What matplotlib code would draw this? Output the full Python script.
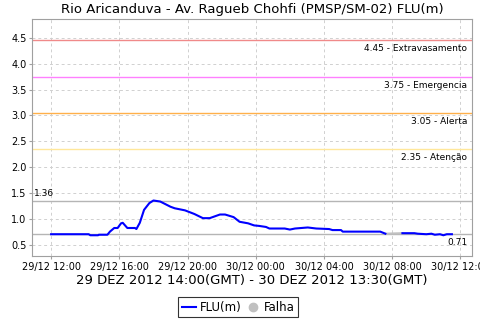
import pandas as pd
import matplotlib
matplotlib.use("Agg")
from matplotlib import pyplot as plt
import matplotlib.dates as mdates
from matplotlib.lines import Line2D

# hours after 29/12 12:00 and level in m
hrs = [0, 2.2, 2.3, 2.75, 2.8, 3.3, 3.45, 3.7, 3.9, 4.1, 4.2, 4.47, 4.92, 5.0,
       5.2, 5.45, 5.76, 6.0, 6.4, 6.7, 7.0, 7.25, 7.85, 8.4, 8.9, 9.3, 9.9,
       10.2, 10.7, 11.05, 11.55, 11.9, 12.2, 12.6, 12.8, 13.7, 14.0, 14.3,
       15.05, 15.55, 16.3, 16.5, 17.0, 17.1, 19.3, 19.6]
flu = [0.71, 0.71, 0.69, 0.69, 0.70, 0.70, 0.76, 0.83, 0.83, 0.92, 0.93, 0.83,
       0.83, 0.81, 0.93, 1.18, 1.31, 1.36, 1.34, 1.29, 1.24, 1.21, 1.17, 1.10,
       1.02, 1.02, 1.09, 1.09, 1.04, 0.95, 0.92, 0.88, 0.87, 0.85, 0.82, 0.82,
       0.80, 0.82, 0.84, 0.82, 0.81, 0.79, 0.79, 0.76, 0.76, 0.72]
hrs2 = [20.6, 21.3, 21.5, 22.0, 22.3, 22.5, 22.8, 23.0, 23.2, 23.5]
flu2 = [0.73, 0.73, 0.72, 0.71, 0.72, 0.70, 0.71, 0.69, 0.71, 0.71]

limits = [4.45, 3.75, 3.05, 2.35]
lim_names = ["Extravasamento", "Emergencia", "Alerta", "Atenção"]
lim_colors = ["#f08a8a", "#ff80ff", "#ffb04a", "#ffe79a"]
vmax, vmin = 1.36, 0.71

t0 = pd.Timestamp("2012-12-29 12:00")
t1 = [t0 + pd.Timedelta(hours=h) for h in hrs]
t2 = [t0 + pd.Timedelta(hours=h) for h in hrs2]

fig = plt.figure(figsize=(4.8, 3.2), dpi=100)
ax = fig.add_axes([0.0667, 0.2, 0.9163, 0.7406])

for v, name, c in zip(limits, lim_names, lim_colors):
    ax.axhline(v, color=c, lw=1)
    ax.text(0.99, v - 0.08, "%.2f - %s" % (v, name), transform=ax.get_yaxis_transform(),
            ha="right", va="top", fontsize=6.5)
ax.axhline(vmax, color="#b5b5b5", lw=1)
ax.axhline(vmin, color="#b5b5b5", lw=1)
ax.text(0.005, vmax + 0.04, "1.36", transform=ax.get_yaxis_transform(), ha="left", va="bottom", fontsize=6.5)
ax.text(0.99, vmin - 0.08, "0.71", transform=ax.get_yaxis_transform(), ha="right", va="top", fontsize=6.5)

ax.plot([t1[-1], t2[0]], [flu[-1], flu2[0]], color="#c0c0c0", lw=1.5)
ax.plot(t1, flu, color="#0000ff", lw=1.5)
ax.plot(t2, flu2, color="#0000ff", lw=1.5)

ax.set_xlim(t0 - pd.Timedelta(hours=1.12), t0 + pd.Timedelta(hours=24.67))
ax.set_ylim(0.29, 4.86)
ax.set_yticks([0.5, 1.0, 1.5, 2.0, 2.5, 3.0, 3.5, 4.0, 4.5])
ax.xaxis.set_major_locator(mdates.HourLocator(byhour=[0, 4, 8, 12, 16, 20]))
ax.xaxis.set_major_formatter(mdates.DateFormatter("%d/%m %H:%M"))
ax.grid(True, color="#d0d0d0", ls=(0, (3, 3)), lw=0.7)
ax.tick_params(labelsize=7, length=2, color="#a0a0a0", pad=2)
for s in ax.spines.values():
    s.set_color("#a0a0a0")

ax.set_title("Rio Aricanduva - Av. Ragueb Chohfi (PMSP/SM-02) FLU(m)", fontsize=9.5, pad=4)
ax.set_xlabel("29 DEZ 2012 14:00(GMT) - 30 DEZ 2012 13:30(GMT)", fontsize=9.5, labelpad=2)

handles = [Line2D([], [], color="#0000ff", lw=1.5),
           Line2D([], [], color="#c0c0c0", marker="o", ls="", ms=6)]
leg = fig.legend(handles, ["FLU(m)", "Falha"], loc="center", bbox_to_anchor=(0.496, 0.04),
                 ncol=2, fontsize=8.5, frameon=True, fancybox=False, handlelength=1.2,
                 handletextpad=0.3, columnspacing=0.4, borderpad=0.3)
leg.get_frame().set_edgecolor("black")
leg.get_frame().set_linewidth(0.8)

fig.savefig("out.png", dpi=100)
